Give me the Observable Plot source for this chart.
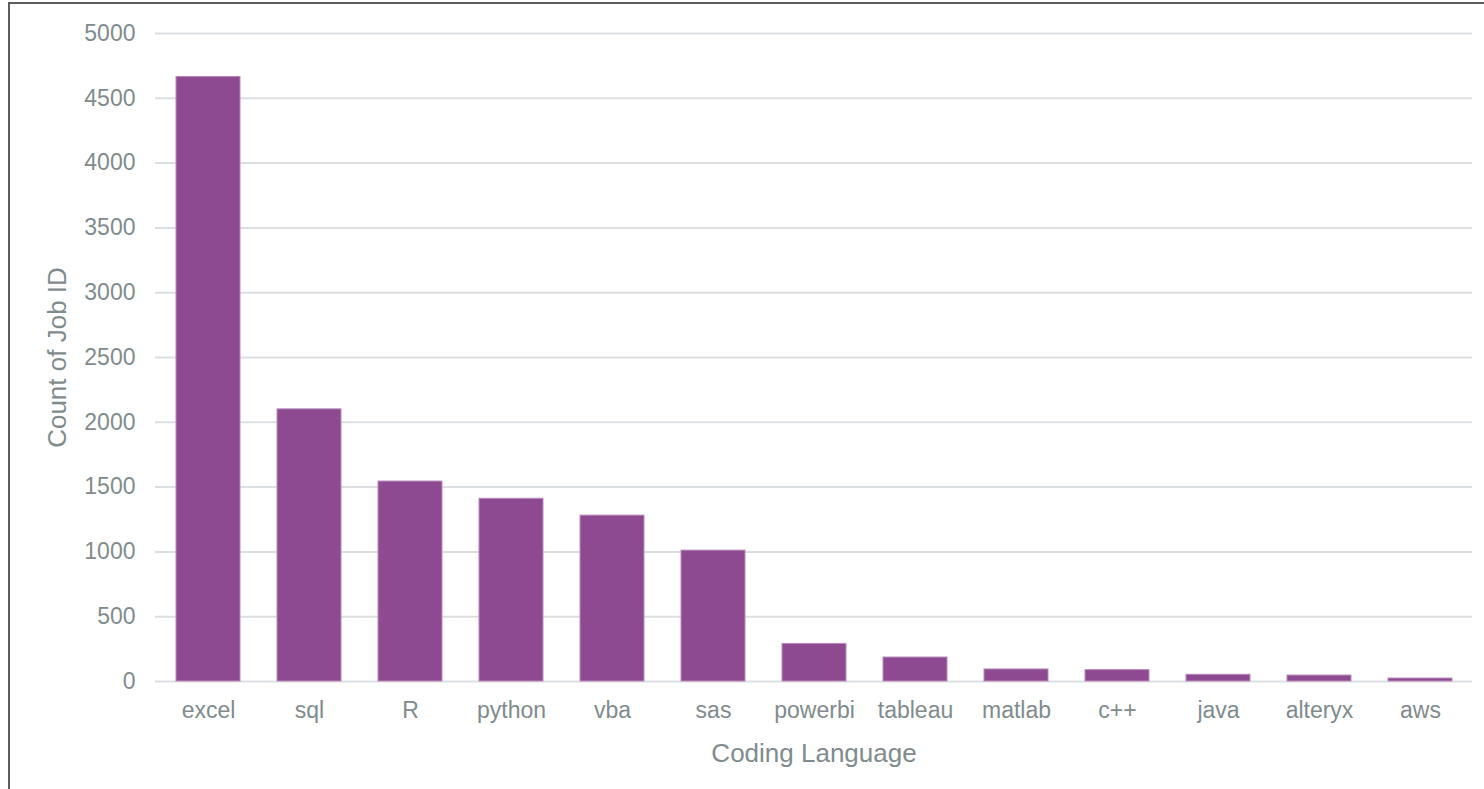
<!DOCTYPE html>
<html>
<head>
<meta charset="utf-8">
<script src="https://cdn.jsdelivr.net/npm/d3@7"></script>
<script src="https://cdn.jsdelivr.net/npm/@observablehq/plot@0.6"></script>
<style>
  html, body { margin: 0; padding: 0; background: #fff; overflow: hidden; }
  #wrap { position: relative; width: 1484px; height: 789px; }
  #border { position: absolute; left: 8px; top: 2px; width: 2000px; height: 2000px;
            border-left: 2px solid #5a5e61; border-top: 2px solid #5a5e61; pointer-events: none; }
  #chart { position: absolute; left: 0; top: 0; }
  g[aria-label="x-axis label"] text, g[aria-label="y-axis label"] text { font-size: 26px; }
</style>
</head>
<body>
<div id="wrap"><div id="chart"></div><div id="border"></div></div>
<script>
const languages = ["excel", "sql", "R", "python", "vba", "sas", "powerbi", "tableau", "matlab", "c++", "java", "alteryx", "aws"];
const counts = [4665, 2100, 1543, 1410, 1280, 1010, 290, 185, 93, 88, 52, 46, 23];
const yTicks = [0, 500, 1000, 1500, 2000, 2500, 3000, 3500, 4000, 4500, 5000];

const data = languages.map((l, i) => ({language: l, count: counts[i]}));

const chart = Plot.plot({
  width: 1484,
  height: 789,
  marginLeft: 155,
  marginRight: 12,
  marginTop: 33,
  marginBottom: 108,
  style: {fontFamily: "'Liberation Sans', Arial, sans-serif", fontSize: "23px", color: "#7f8b8d", background: "#fff"},
  x: {domain: languages, paddingInner: 0.37, paddingOuter: 0.185},
  y: {domain: [0, 5000]},
  marks: [
    Plot.gridY(yTicks, {stroke: "#dcdfe2", strokeOpacity: 1, strokeWidth: 2}),
    Plot.barY(data, {x: "language", y: "count", fill: "#8e4a91", stroke: "#b98bbb", strokeWidth: 1}),
    Plot.axisY({ticks: yTicks, tickFormat: d => String(d), tickSize: 0, tickPadding: 20, label: "Count of Job ID", labelArrow: "none", labelAnchor: "center", labelOffset: 108, fill: "#7f8b8d"}),
    Plot.axisX({tickSize: 0, tickPadding: 20, label: "Coding Language", labelArrow: "none", labelAnchor: "center", labelOffset: 80, fill: "#7f8b8d"})
  ]
});
// strip any direction arrows from axis labels
chart.querySelectorAll('g[aria-label$="axis label"] text').forEach(t => {
  t.textContent = t.textContent.replace(/\s*[←↑→↓]\s*/g, "").trim();
});
document.getElementById("chart").appendChild(chart);
</script>
</body>
</html>
